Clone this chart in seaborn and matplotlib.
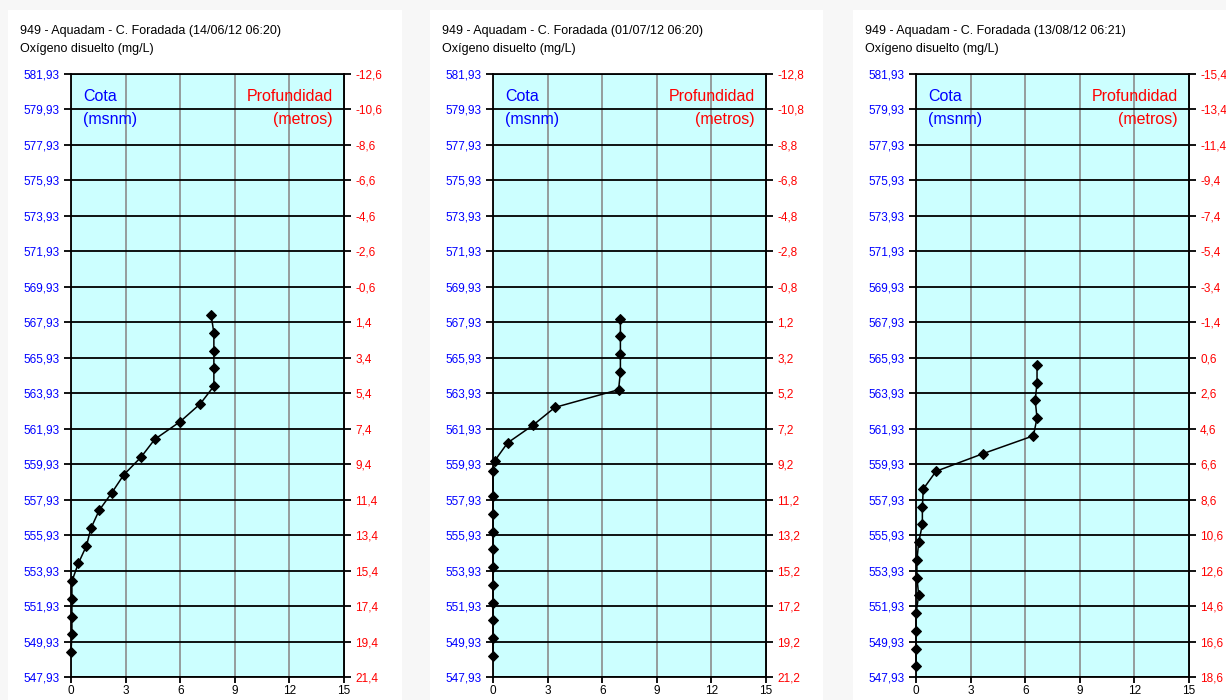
import matplotlib
matplotlib.use("Agg")
import matplotlib.pyplot as plt
from matplotlib.patches import Rectangle
import pandas as pd
import seaborn as sns

sns.set_theme(style="white")
plt.rcParams['font.family'] = ['Liberation Sans', 'DejaVu Sans']

# ---- data ----------------------------------------------------------------
station = "949 - Aquadam - C. Foradada"
variable = "Oxígeno disuelto (mg/L)"
sample_times = ["14/06/12 06:20", "01/07/12 06:20", "13/08/12 06:21"]
surface_elev = [569.33, 569.13, 566.53]   # water surface (msnm) per profile

depth_jun = [1, 2, 3, 4, 5, 6, 7, 8, 9, 10, 11, 12, 13, 14, 15, 16, 17, 18, 19, 20]
oxy_jun = [7.7, 7.85, 7.85, 7.85, 7.85, 7.1, 6.0, 4.6, 3.85, 2.9, 2.25, 1.55,
           1.1, 0.85, 0.4, 0.05, 0.05, 0.05, 0.05, 0.0]

depth_jul = [1, 2, 3, 4, 5, 6, 7, 8, 9, 9.6, 11, 12, 13, 14, 15, 16, 17, 18, 19, 20]
oxy_jul = [7.0, 7.0, 7.0, 7.0, 6.9, 3.4, 2.2, 0.8, 0.1, 0.0, 0.0, 0.0,
           0.0, 0.0, 0.0, 0.0, 0.0, 0.0, 0.0, 0.0]

depth_aug = [1, 2, 3, 4, 5, 6, 7, 8, 9, 10, 11, 12, 13, 14, 15, 16, 17, 18]
oxy_aug = [6.65, 6.65, 6.55, 6.65, 6.45, 3.7, 1.1, 0.4, 0.35, 0.35, 0.15, 0.05,
           0.05, 0.15, 0.0, 0.0, 0.0, 0.0]

depths = [depth_jun, depth_jul, depth_aug]
oxygen = [oxy_jun, oxy_jul, oxy_aug]

cota_ticks = [547.93 + 2 * i for i in range(18)]
x_ticks = [0, 3, 6, 9, 12, 15]

# ---- layout --------------------------------------------------------------
W, H = 1226, 700
fig = plt.figure(figsize=(W / 100, H / 100), dpi=100)
fig.patch.set_facecolor("#f7f7f7")

panel_bg = [(8, 402), (430, 823), (853, 1226)]
axes_left = [71, 493, 916]
axes_w = 273
axes_top, axes_bot = 74, 677
title_x = [20, 442, 865]

for lo, hi in panel_bg:
    fig.patches.append(Rectangle((lo / W, 0), (hi - lo) / W, 1 - 10 / H,
                                 transform=fig.transFigure, facecolor="white",
                                 edgecolor="none", zorder=-10))


def fmt_comma(v, nd):
    return f"{v:.{nd}f}".replace(".", ",")


for i in range(3):
    s = surface_elev[i]
    ax = fig.add_axes([axes_left[i] / W, 1 - axes_bot / H,
                       axes_w / W, (axes_bot - axes_top) / H])
    ax.set_facecolor("#ccffff")

    df = pd.DataFrame({"oxigeno": oxygen[i],
                       "cota": [s - d for d in depths[i]]})
    sns.lineplot(data=df, x="oxigeno", y="cota", sort=False, estimator=None,
                 ax=ax, color="black", lw=1.1, marker="D", markersize=5,
                 markeredgecolor="black", markerfacecolor="black",
                 clip_on=False, zorder=5)

    ax.set_xlim(0, 15)
    ax.set_ylim(cota_ticks[0], cota_ticks[-1])
    ax.set_xlabel("")
    ax.set_ylabel("")
    ax.set_xticks(x_ticks)
    ax.set_xticklabels([str(t) for t in x_ticks])
    ax.set_yticks(cota_ticks)
    ax.set_yticklabels([fmt_comma(c, 2) for c in cota_ticks])

    ax.yaxis.grid(True, color="black", lw=1.3)
    ax.xaxis.grid(True, color="#8c8c8c", lw=1.2)
    ax.set_axisbelow(True)
    for sp in ax.spines.values():
        sp.set_color("black")
        sp.set_linewidth(1.3)

    ax.tick_params(axis="y", left=True, direction="out", length=5, width=1.3,
                   color="black", labelcolor="blue", labelsize=8.5, pad=3)
    ax.tick_params(axis="x", bottom=True, direction="out", length=4, width=1.3,
                   color="black", labelcolor="black", labelsize=8.5, pad=1.5)

    sec = ax.secondary_yaxis("right", functions=(lambda c, s=s: s - c,
                                                 lambda d, s=s: s - d))
    depth_ticks = [s - c for c in cota_ticks]
    sec.set_yticks(depth_ticks)
    sec.set_yticklabels([fmt_comma(d, 1) for d in depth_ticks])
    sec.tick_params(axis="y", direction="out", length=5, width=1.3,
                    color="black", labelcolor="red", labelsize=8.5, pad=3)
    sec.spines["right"].set_linewidth(1.3)

    ax.text(0.045, 0.955, "Cota", transform=ax.transAxes, color="blue",
            fontsize=11.5, ha="left", va="baseline")
    ax.text(0.045, 0.917, "(msnm)", transform=ax.transAxes, color="blue",
            fontsize=11.5, ha="left", va="baseline")
    ax.text(0.96, 0.955, "Profundidad", transform=ax.transAxes, color="red",
            fontsize=11.5, ha="right", va="baseline")
    ax.text(0.96, 0.917, "(metros)", transform=ax.transAxes, color="red",
            fontsize=11.5, ha="right", va="baseline")

    fig.text(title_x[i] / W, 1 - 34 / H, f"{station} ({sample_times[i]})",
             fontsize=9, color="black", ha="left", va="baseline")
    fig.text(title_x[i] / W, 1 - 52 / H, variable,
             fontsize=9, color="black", ha="left", va="baseline")

fig.savefig("out.png", dpi=100, facecolor=fig.get_facecolor())
